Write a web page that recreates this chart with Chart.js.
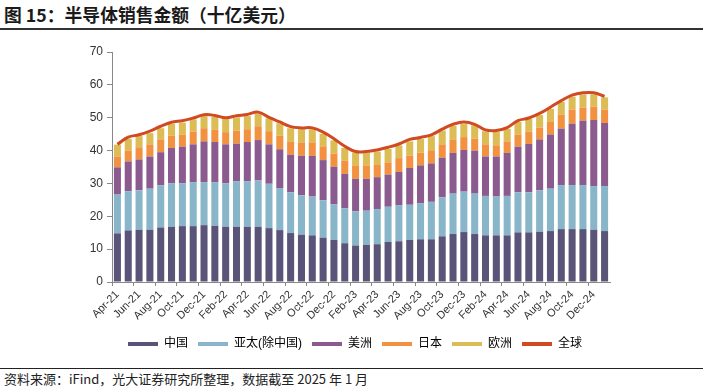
<!DOCTYPE html>
<html><head><meta charset="utf-8">
<script src="https://cdn.jsdelivr.net/npm/chart.js@4"></script>
<style>
html,body{margin:0;padding:0;background:#fff;width:703px;height:390px;overflow:hidden;font-family:"Liberation Sans","Noto Sans CJK SC",sans-serif;}
#title{position:absolute;left:4px;top:3px;font-size:17.8px;font-weight:bold;color:#1a1a1a;font-family:"Noto Sans CJK SC","Liberation Sans",sans-serif;line-height:22px;}
#tline{position:absolute;left:0;top:28px;width:703px;height:2px;background:#333;}
#sline{position:absolute;left:0;top:368px;width:703px;height:1px;background:#222;}
#src{position:absolute;left:4px;top:370px;font-size:13px;color:#222;font-family:"Noto Sans CJK SC","Liberation Sans",sans-serif;line-height:18px;}
#wrap{position:absolute;left:0;top:31px;width:703px;height:334px;}
</style></head>
<body>
<div id="title">图 15：半导体销售金额（十亿美元）</div>
<div id="tline"></div>
<div id="wrap"><canvas id="c" width="703" height="334"></canvas></div>
<div id="sline"></div>
<div id="src">资料来源：iFind，光大证券研究所整理，数据截至 2025 年 1 月</div>
<script>
const categories = ["Apr-21","May-21","Jun-21","Jul-21","Aug-21","Sep-21","Oct-21","Nov-21","Dec-21","Jan-22","Feb-22","Mar-22","Apr-22","May-22","Jun-22","Jul-22","Aug-22","Sep-22","Oct-22","Nov-22","Dec-22","Jan-23","Feb-23","Mar-23","Apr-23","May-23","Jun-23","Jul-23","Aug-23","Sep-23","Oct-23","Nov-23","Dec-23","Jan-24","Feb-24","Mar-24","Apr-24","May-24","Jun-24","Jul-24","Aug-24","Sep-24","Oct-24","Nov-24","Dec-24","Jan-25"];
const china = [14.8,15.7,15.9,15.9,16.6,16.8,17.0,17.0,17.3,17.1,16.8,16.8,16.8,16.8,16.4,15.8,14.9,14.4,14.2,13.5,12.8,11.8,11.1,11.3,11.5,12.2,12.4,12.8,13.0,13.0,13.9,14.6,15.2,14.6,14.2,14.2,14.2,15.1,15.1,15.3,15.5,16.1,16.1,16.1,15.9,15.5];
const asiaPacExChina = [11.8,11.9,12.0,12.5,12.8,13.2,13.0,13.4,13.1,13.3,13.2,13.9,13.9,14.1,13.5,12.8,12.4,12.0,11.8,11.4,10.9,10.6,10.4,10.4,10.7,10.7,11.0,10.7,11.0,11.4,11.9,12.3,12.3,12.3,12.0,11.8,12.0,12.2,12.2,12.6,12.9,13.4,13.4,13.4,13.3,13.7];
const americas = [8.3,9.1,9.4,9.8,10.1,10.8,11.2,11.5,12.4,12.2,11.9,11.4,11.9,12.3,12.0,11.8,11.4,12.0,12.4,12.2,11.4,10.5,9.9,9.7,9.7,9.8,10.1,11.2,11.5,11.7,12.0,12.4,12.7,13.1,12.0,12.2,13.1,13.9,14.7,15.5,16.5,17.2,18.7,19.6,20.1,19.2];
const japan = [3.3,3.3,3.7,3.7,3.9,3.7,3.7,3.9,4.0,3.7,3.7,4.0,3.9,4.2,4.0,4.1,4.1,4.1,4.1,4.2,4.0,4.1,4.1,4.1,3.7,3.7,4.2,3.7,3.9,4.0,4.1,4.1,3.9,3.6,3.7,3.4,3.5,3.7,3.8,3.6,4.0,4.2,4.3,4.0,4.1,4.1];
const europe = [3.6,3.6,3.4,3.4,3.4,3.6,3.6,3.7,3.7,4.0,4.0,4.0,4.0,3.9,3.9,3.8,4.0,4.0,4.0,3.8,4.0,3.8,3.9,3.9,4.1,4.1,3.9,4.4,4.1,4.3,4.2,4.1,4.0,4.1,4.0,4.1,3.8,3.8,3.8,3.8,3.8,3.9,3.9,4.0,3.7,3.7];
const global = [41.9,44.1,44.8,45.9,47.4,48.6,49.1,49.9,50.9,50.7,50.0,50.6,51.0,51.7,50.1,48.7,47.3,46.9,46.9,45.6,43.6,41.3,39.7,39.7,40.2,41.0,42.0,43.4,44.0,44.8,46.5,48.0,48.7,48.0,46.3,46.1,47.0,49.1,49.9,51.3,53.2,55.2,56.9,57.6,57.6,56.5];
const yTicks = [0,10,20,30,40,50,60,70];

const F = '"Liberation Sans","Noto Sans CJK SC",sans-serif';
const barCommon = {type:'bar', stack:'s', barPercentage:0.65, categoryPercentage:1.0, borderWidth:0, order:2};
const chart = new Chart(document.getElementById('c'), {
  data: {
    labels: categories,
    datasets: [
      {...barCommon, label:'中国', data:china, backgroundColor:'#5a5479'},
      {...barCommon, label:'亚太(除中国)', data:asiaPacExChina, backgroundColor:'#89b5c9'},
      {...barCommon, label:'美洲', data:americas, backgroundColor:'#8b5b8f'},
      {...barCommon, label:'日本', data:japan, backgroundColor:'#f29140'},
      {...barCommon, label:'欧洲', data:europe, backgroundColor:'#dcbd55'},
      {type:'line', label:'全球', stack:'g', data:global, borderColor:'#d04a22', backgroundColor:'#d04a22', borderWidth:3, pointRadius:0, tension:0.4, order:1}
    ]
  },
  options: {
    responsive:false, animation:false,
    layout:{padding:{left:60, right:93, top:21, bottom:5}},
    plugins:{
      legend:{position:'bottom', labels:{boxWidth:30, boxHeight:4, font:{size:12, family:F}, color:'#222', padding:10,
        generateLabels:(ch)=>ch.data.datasets.map((d,i)=>({text:d.label, fillStyle:d.backgroundColor, strokeStyle:d.backgroundColor, lineWidth:0, datasetIndex:i, hidden:false}))}},
      tooltip:{enabled:false}
    },
    scales:{
      x:{stacked:true, offset:true,
        grid:{display:true, drawOnChartArea:false, drawTicks:true, tickLength:4, offset:true,
          color:(c)=> (c.index % 2 === 0) ? '#888' : 'rgba(0,0,0,0)'},
        border:{display:true, color:'#888', width:1},
        ticks:{autoSkip:false, minRotation:45, maxRotation:45, padding:2, color:'#333', font:{size:11, family:F},
          callback:function(v,i){return i%2===0 ? categories[i] : '';}},
        afterFit:(s)=>{s.height=46;}
      },
      y:{stacked:true, min:0, max:70,
        grid:{display:true, drawOnChartArea:false, drawTicks:true, tickLength:5, color:'#888'},
        border:{display:true, color:'#888', width:1},
        afterBuildTicks:(s)=>{s.ticks=yTicks.map(v=>({value:v}));},
        ticks:{color:'#333', font:{size:12, family:F}, padding:4},
        afterFit:(s)=>{s.width=52;}
      }
    }
  }
});
// shift legend to the right to match the reference placement
const origDraw = chart.legend.draw;
chart.legend.draw = function(){
  const ctx = this.ctx; ctx.save(); ctx.translate(20,0); origDraw.apply(this, arguments); ctx.restore();
};
chart.update();
</script>
</body></html>
